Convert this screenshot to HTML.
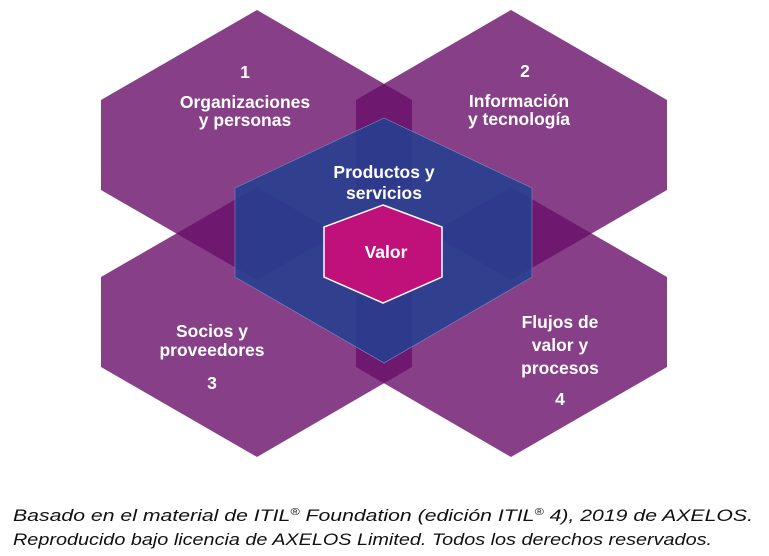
<!DOCTYPE html>
<html><head><meta charset="utf-8"><style>
html,body{margin:0;padding:0;background:#fff;}
svg{display:block;}
</style></head><body>
<svg width="769" height="556" viewBox="0 0 769 556" xmlns="http://www.w3.org/2000/svg">
<g fill="rgb(105,15,105)" fill-opacity="0.8">
<polygon points="257,10 412,100 412,190 257,280 101,190 101,100"/>
<polygon points="511,10 667,100 667,190 511,280 356,190 356,100"/>
<polygon points="257,187 412,277 412,367 257,457 101,367 101,277"/>
<polygon points="511,187 667,277 667,367 511,457 356,367 356,277"/>
</g>
<polygon points="384,118 532,188 532,277 384,363 235,277 235,188" fill="rgb(38,64,145)" fill-opacity="0.88" stroke="#7a88c0" stroke-width="0.6"/>
<polygon points="383,205 442,227 442,277 383,303 324,277 324,227" fill="#c0107a" stroke="#fff" stroke-width="1.5"/>
<g fill="#fff" font-family="Liberation Sans, sans-serif" font-weight="bold" font-size="17.5" text-anchor="middle">
<text x="245" y="78">1</text>
<text x="245" y="108">Organizaciones</text>
<text x="245" y="126">y personas</text>
<text x="525" y="77">2</text>
<text x="519" y="107">Información</text>
<text x="519" y="125">y tecnología</text>
<text x="384" y="178">Productos y</text>
<text x="384" y="199">servicios</text>
<text x="386" y="258">Valor</text>
<text x="212" y="337">Socios y</text>
<text x="212" y="356">proveedores</text>
<text x="212" y="389">3</text>
<text x="560" y="328">Flujos de</text>
<text x="560" y="351">valor y</text>
<text x="560" y="374">procesos</text>
<text x="560" y="405">4</text>
</g>
<g fill="#111" font-family="Liberation Sans, sans-serif" font-style="italic" font-size="17">
<text x="13" y="521" textLength="740" lengthAdjust="spacingAndGlyphs">Basado en el material de ITIL<tspan font-size="10" dy="-6">®</tspan><tspan dy="6"> Foundation (edición ITIL</tspan><tspan font-size="10" dy="-6">®</tspan><tspan dy="6"> 4), 2019 de AXELOS.</tspan></text>
<text x="13" y="545" textLength="699" lengthAdjust="spacingAndGlyphs">Reproducido bajo licencia de AXELOS Limited. Todos los derechos reservados.</text>
</g>
</svg>
</body></html>
